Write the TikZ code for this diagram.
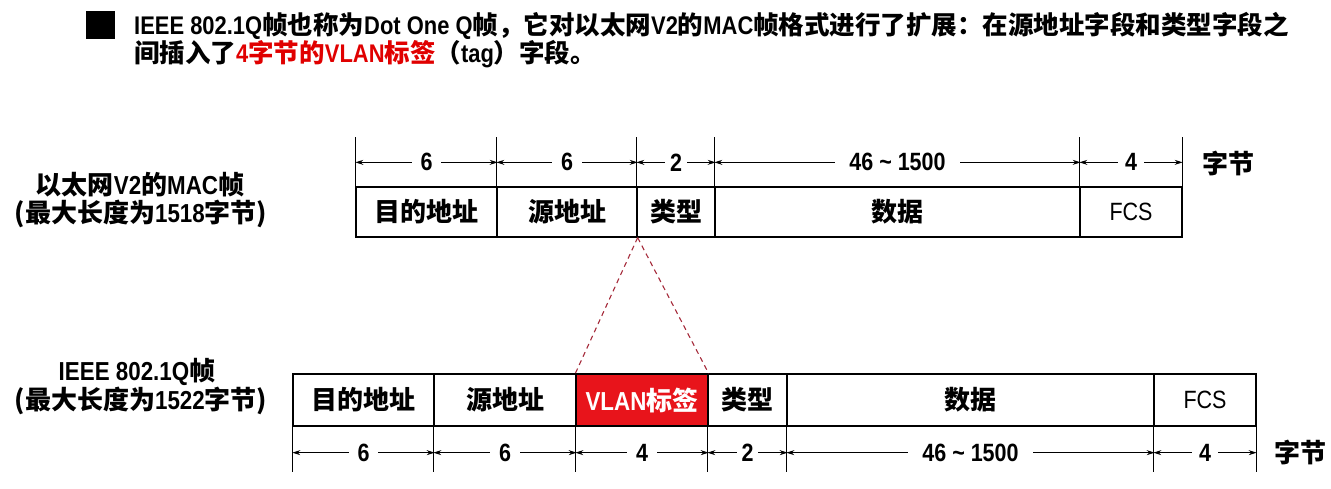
\documentclass[tikz,border=0pt]{standalone}
\usepackage{fontspec}
\newfontfamily\cjk{Noto Sans CJK SC}
\newfontfamily\lat[FakeStretch=0.86]{Liberation Sans}
\usetikzlibrary{arrows.meta}
\definecolor{vred}{HTML}{E8141B}
\definecolor{tred}{HTML}{E00000}
\definecolor{dred}{HTML}{A52A3A}
\newcommand{\La}[1]{{\lat #1}}
\newcommand{\Lb}[1]{{\lat\bfseries #1}}
\begin{document}
\begin{tikzpicture}[x=1pt,y=-1pt,
  cell/.style={draw, line width=1.3pt, inner sep=0pt, minimum height=50pt,
    font=\cjk\bfseries\fontsize{26}{30}\selectfont},
  tick/.style={line width=1.3pt},
  dim/.style={line width=0.9pt, {Stealth[length=8pt,width=5pt]}-{Stealth[length=8pt,width=5pt]}},
  num/.style={fill=white, inner xsep=9pt, inner ysep=1pt, font=\lat\bfseries\fontsize{25}{29}\selectfont},
  lab/.style={font=\cjk\bfseries\fontsize{26}{30}\selectfont},
  unit/.style={font=\cjk\bfseries\fontsize{26}{30}\selectfont},
  ttl/.style={anchor=base west, inner sep=0pt, font=\cjk\bfseries\fontsize{25.5}{30}\selectfont},
  zoomline/.style={dred, line width=1.1pt, dash pattern=on 5pt off 4pt}
]
\useasboundingbox (0,0) rectangle (1331,488);
% title
\node[fill=black, minimum width=29pt, minimum height=28pt, inner sep=0pt] (sq) at (100.5,25) {};
\node[ttl] (t1) at (134,34) {\La{IEEE 802.1Q}帧也称为\La{Dot One Q}帧，它对以太网\La{V2}的\La{MAC}帧格式进行了扩展：在源地址字段和类型字段之};
\node[ttl] (t2) at (134,62) {间插入了\textcolor{tred}{\Lb{4}字节的\Lb{VLAN}标签}（\La{tag}）字段。};
% labels
\node[lab] (l1) at (140,185) {以太网\Lb{V2}的\Lb{MAC}帧};
\node[lab] (l2) at (141,214) {(最大长度为\Lb{1518}字节)};
\node[lab] (l3) at (137,372) {\La{IEEE 802.1Q}帧};
\node[lab] (l4) at (141,401) {(最大长度为\Lb{1522}字节)};
% top frame
\node[cell, minimum width=141pt] (a1) at (426.5,212) {目的地址};
\node[cell, minimum width=140pt] (a2) at (567,212) {源地址};
\node[cell, minimum width=78pt] (a3) at (676,212) {类型};
\node[cell, minimum width=365pt] (a4) at (897.5,212) {数据};
\node[cell, minimum width=102pt, font=\lat\fontsize{25}{29}\selectfont] (a5) at (1131,212) {FCS};
\foreach \c in {a1,a2,a3,a4,a5} \draw[tick] (\c.north west) -- ++(0,-49);
\draw[tick] (a5.north east) -- ++(0,-49);
\draw[dim] ([yshift=24pt]a1.north west) -- ([yshift=24pt]a1.north east) node[midway,num] {6};
\draw[dim] ([yshift=24pt]a2.north west) -- ([yshift=24pt]a2.north east) node[midway,num] {6};
\draw[dim] ([yshift=24pt]a3.north west) -- ([yshift=24pt]a3.north east) node[midway,num,inner xsep=5pt] {2};
\draw[dim] ([yshift=24pt]a4.north west) -- ([yshift=24pt]a4.north east) node[midway,num,inner xsep=14pt] {46 \char`\~{} 1500};
\draw[dim] ([yshift=24pt]a5.north west) -- ([yshift=24pt]a5.north east) node[midway,num,inner xsep=7pt] {4};
\node[unit] (u1) at (1228,163) {字节};
% bottom frame
\node[cell, minimum width=141pt, minimum height=52pt] (b1) at (363.5,400) {目的地址};
\node[cell, minimum width=142pt, minimum height=52pt] (b2) at (505,400) {源地址};
\node[cell, minimum width=132pt, minimum height=52pt, fill=vred, text=white] (b3) at (642,400) {\Lb{VLAN}标签};
\node[cell, minimum width=79pt, minimum height=52pt] (b4) at (747.5,400) {类型};
\node[cell, minimum width=367pt, minimum height=52pt] (b5) at (970.5,400) {数据};
\node[cell, minimum width=102pt, minimum height=52pt, font=\lat\fontsize{25}{29}\selectfont] (b6) at (1205,400) {FCS};
\foreach \c in {b1,b2,b3,b4,b5,b6} \draw[tick] (\c.south west) -- ++(0,45);
\draw[tick] (b6.south east) -- ++(0,45);
\draw[dim] ([yshift=-26pt]b1.south west) -- ([yshift=-26pt]b1.south east) node[midway,num] {6};
\draw[dim] ([yshift=-26pt]b2.south west) -- ([yshift=-26pt]b2.south east) node[midway,num] {6};
\draw[dim] ([yshift=-26pt]b3.south west) -- ([yshift=-26pt]b3.south east) node[midway,num] {4};
\draw[dim] ([yshift=-26pt]b4.south west) -- ([yshift=-26pt]b4.south east) node[midway,num,inner xsep=5pt] {2};
\draw[dim] ([yshift=-26pt]b5.south west) -- ([yshift=-26pt]b5.south east) node[midway,num,inner xsep=14pt] {46 \char`\~{} 1500};
\draw[dim] ([yshift=-26pt]b6.south west) -- ([yshift=-26pt]b6.south east) node[midway,num,inner xsep=7pt] {4};
\node[unit] (u2) at (1300,452) {字节};
% zoom lines
\draw[zoomline] (a2.south east) -- (b3.north west);
\draw[zoomline] (a2.south east) -- (b3.north east);
\end{tikzpicture}
\end{document}
